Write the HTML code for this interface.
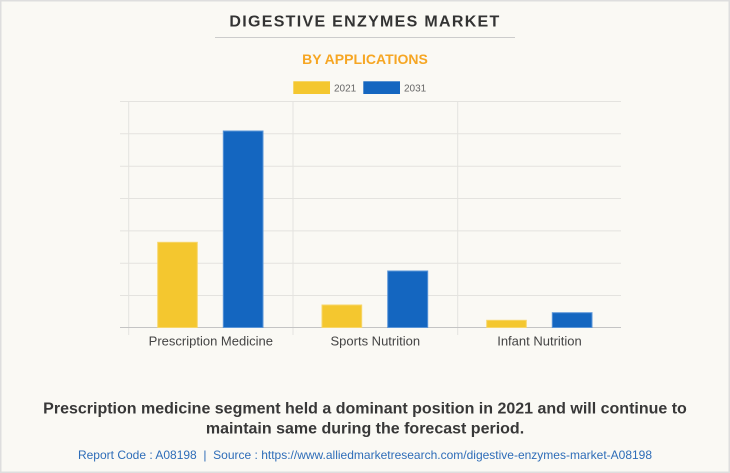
<!DOCTYPE html>
<html>
<head>
<meta charset="utf-8">
<style>
  html, body { margin: 0; padding: 0; background: #FAF9F4; }
  body { width: 730px; height: 473px; overflow: hidden; }
  svg { display: block; font-family: "Liberation Sans", Arial, sans-serif; }
</style>
</head>
<body>
<svg width="730" height="473" viewBox="0 0 730 473" xmlns="http://www.w3.org/2000/svg">
  <rect x="0" y="0" width="730" height="473" fill="#FAF9F4"/>
  <rect x="0.75" y="0.75" width="728.5" height="471.5" fill="none" stroke="#DEDEDE" stroke-width="1.5"/>

  <!-- Title -->
  <text x="365" y="26.7" text-anchor="middle" font-size="16" font-weight="bold" fill="#333333" letter-spacing="1.3">DIGESTIVE ENZYMES MARKET</text>
  <line x1="215" y1="37.5" x2="515" y2="37.5" stroke="#CCCCCC" stroke-width="1"/>
  <text x="365" y="64" text-anchor="middle" font-size="14" font-weight="bold" fill="#F6A623">BY APPLICATIONS</text>

  <!-- Legend -->
  <rect x="293.3" y="81.3" width="36.7" height="12.7" fill="#F4C72F"/>
  <text x="334" y="91.5" font-size="10" fill="#666666">2021</text>
  <rect x="363.3" y="81.3" width="36.7" height="12.7" fill="#1466C0"/>
  <text x="404" y="91.5" font-size="10" fill="#666666">2031</text>

  <!-- Grid -->
  <g stroke="#E4E3DF" stroke-width="1">
    <line x1="120" y1="101.5" x2="621" y2="101.5"/>
    <line x1="120" y1="133.8" x2="621" y2="133.8"/>
    <line x1="120" y1="166.2" x2="621" y2="166.2"/>
    <line x1="120" y1="198.5" x2="621" y2="198.5"/>
    <line x1="120" y1="230.9" x2="621" y2="230.9"/>
    <line x1="120" y1="263.2" x2="621" y2="263.2"/>
    <line x1="120" y1="295.5" x2="621" y2="295.5"/>
    <line x1="128.7" y1="101" x2="128.7" y2="335"/>
    <line x1="293" y1="101" x2="293" y2="335"/>
    <line x1="457.7" y1="101" x2="457.7" y2="335"/>
  </g>
  <line x1="120" y1="327.5" x2="621" y2="327.5" stroke="#C4C4C4" stroke-width="1"/>

  <!-- Bars -->
  <g stroke-width="1">
    <rect x="157.7" y="242.3" width="39.6" height="85.2" fill="#F4C72F" stroke="#F7D66A"/>
    <rect x="223.3" y="131" width="39.7" height="196.5" fill="#1466C0" stroke="#5A95D8"/>
    <rect x="322" y="305" width="39.7" height="22.5" fill="#F4C72F" stroke="#F7D66A"/>
    <rect x="387.7" y="271" width="40" height="56.5" fill="#1466C0" stroke="#5A95D8"/>
    <rect x="486.7" y="320.3" width="39.6" height="7.2" fill="#F4C72F" stroke="#F7D66A"/>
    <rect x="552.3" y="312.7" width="39.7" height="14.8" fill="#1466C0" stroke="#5A95D8"/>
  </g>

  <!-- Category labels -->
  <text x="210.8" y="345.5" text-anchor="middle" font-size="13" fill="#444444">Prescription Medicine</text>
  <text x="375.3" y="345.5" text-anchor="middle" font-size="13" fill="#444444">Sports Nutrition</text>
  <text x="539.5" y="345.5" text-anchor="middle" font-size="13" fill="#444444">Infant Nutrition</text>

  <!-- Bottom text -->
  <text x="365" y="413.3" text-anchor="middle" font-size="16" font-weight="bold" fill="#383838">Prescription medicine segment held a dominant position in 2021 and will continue to</text>
  <text x="365" y="433.5" text-anchor="middle" font-size="16" font-weight="bold" fill="#383838">maintain same during the forecast period.</text>
  <text x="365" y="459" text-anchor="middle" font-size="12" fill="#2E6DB8" xml:space="preserve">Report Code : A08198  |  Source : https://www.alliedmarketresearch.com/digestive-enzymes-market-A08198</text>
</svg>
</body>
</html>
